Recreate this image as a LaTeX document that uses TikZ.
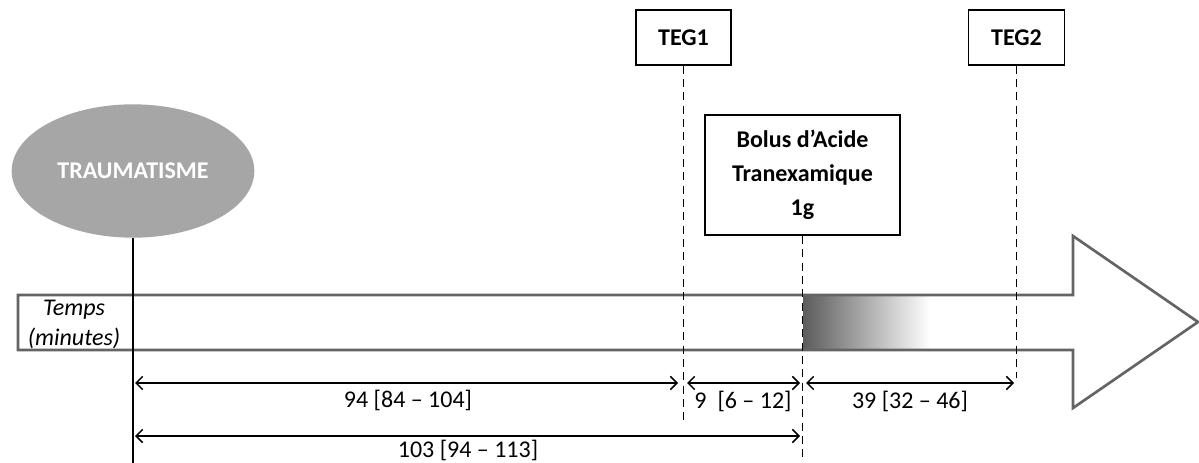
\documentclass[tikz,border=0pt]{standalone}
\usepackage{fontspec}
\setmainfont{Carlito}
\usepackage{tikz}
\usetikzlibrary{shapes.geometric}
\usetikzlibrary{arrows.meta}

\definecolor{ellgray}{RGB}{166,166,166}
\definecolor{flgray}{RGB}{100,100,100}

\tikzset{
	texte/.style={font=\fontsize{18}{22}\selectfont},
	boite/.style={draw, line width=1.3pt, texte, font=\bfseries\fontsize{18}{25.5}\selectfont, align=center},
	repere/.style={line width=1.2pt, dash pattern=on 6pt off 4pt},
	cote/.style={line width=1.1pt, {Straight Barb[length=5pt,width=10pt]}-{Straight Barb[length=5pt,width=10pt]}},
}

\begin{document}
\begin{tikzpicture}[x=0.75pt,y=-0.75pt]
	\useasboundingbox (0,0) rectangle (1199,463);

	% Arrow of time
	\coordinate (A) at (18,295);
	\coordinate (B) at (1073,295);
	\coordinate (C) at (1073,236);
	\coordinate (D) at (1198,322);
	\coordinate (E) at (1073,408);
	\coordinate (F) at (1073,350);
	\coordinate (G) at (18,350);

	% Shading after the bolus
	\shade[left color=black!64, right color=white] (803,296) rectangle (930,349);

	\draw[flgray, line width=2pt, line join=miter] (A) -- (B) -- (C) -- (D) -- (E) -- (F) -- (G) -- cycle;

	\node[texte, font=\itshape\fontsize{18}{22.5}\selectfont, align=center] (temps) at (74,324) {Temps\\(minutes)};

	% Trauma
	\node[ellipse, fill=ellgray, text=white, inner sep=0pt, minimum width=182pt, minimum height=100pt,
		font=\bfseries\fontsize{18}{22}\selectfont] (trauma) at (133,171) {TRAUMATISME};
	\coordinate (T0) at (133,463);
	\draw[line width=1.5pt] (trauma.south) -- (T0);

	% Boxes
	\node[boite, minimum width=71pt, minimum height=41pt] (teg1) at (683.5,37.5) {TEG1};
	\node[boite, minimum width=72pt, minimum height=41pt] (teg2) at (1016.5,37.5) {TEG2};
	\node[boite, minimum width=146pt, minimum height=90pt] (bolus) at (802.5,175) {Bolus d’Acide\\Tranexamique\\1g};

	% Dashed marks
	\coordinate (M1) at (683.5,423);
	\coordinate (M2) at (1016.5,378);
	\coordinate (M3) at (802.5,463);
	\draw[repere] (teg1.south) -- (M1);
	\draw[repere] (teg2.south) -- (M2);
	\draw[repere] (bolus.south) -- (M3);

	% Durations
	\coordinate (P1) at (135,383);
	\coordinate (P2) at (678,383);
	\coordinate (P3) at (687,383);
	\coordinate (P4) at (800,383);
	\coordinate (P5) at (806,383);
	\coordinate (P6) at (1014,383);
	\coordinate (Q1) at (135,436);
	\coordinate (Q2) at (800,436);
	\draw[cote] (P1) -- (P2);
	\draw[cote] (P3) -- (P4);
	\draw[cote] (P5) -- (P6);
	\draw[cote] (Q1) -- (Q2);

	\node[texte] (d1) at (408,400) {94 [84 – 104]};
	\node[texte] (d2) at (743,401) {9\ \ [6 – 12]};
	\node[texte] (d3) at (910,401) {39 [32 – 46]};
	\node[texte] (d4) at (468,450) {103 [94 – 113]};
\end{tikzpicture}
\end{document}
